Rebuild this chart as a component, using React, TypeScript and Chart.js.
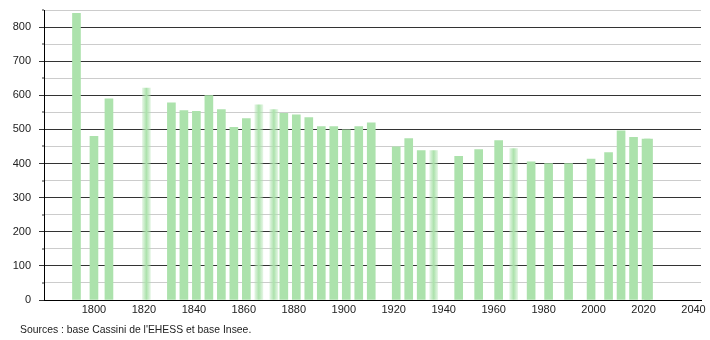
import React, { useEffect, useRef } from 'react';
import { Chart, registerables } from 'chart.js';

Chart.register(...registerables);

const years = [1793, 1800, 1806, 1821, 1831, 1836, 1841, 1846, 1851, 1856, 1861, 1866, 1872, 1876, 1881, 1886, 1891, 1896, 1901, 1906, 1911, 1921, 1926, 1931, 1936, 1946, 1954, 1962, 1968, 1975, 1982, 1990, 1999, 2006, 2011, 2016, 2021, 2022];
const population = [840, 480, 590, 621, 578, 555, 553, 599, 558, 506, 532, 572, 558, 547, 543, 535, 508, 508, 499, 508, 519, 449, 473, 438, 438, 421, 441, 467, 444, 405, 400, 400, 413, 432, 496, 477, 472, 472];
const fadedYears = [1821, 1866, 1872, 1936, 1968];
const xTickLabels = [1800, 1820, 1840, 1860, 1880, 1900, 1920, 1940, 1960, 1980, 2000, 2020, 2040];
const sourceText = "Sources : base Cassini de l'EHESS et base Insee.";

const BAR = 'rgb(172,226,172)';
const FONT = { family: '"Liberation Sans", Arial, sans-serif', size: 11 };

export default function App() {
  const ref = useRef<HTMLCanvasElement>(null);
  useEffect(() => {
    const canvas = ref.current!;
    const sourcePlugin = {
      id: 'sourceText',
      afterDraw(chart: any) {
        const c = chart.ctx;
        c.save();
        c.font = '10.4px "Liberation Sans", Arial, sans-serif';
        c.fillStyle = '#222';
        c.textBaseline = 'middle';
        c.textAlign = 'left';
        c.fillText(sourceText, 20, 330);
        c.restore();
      },
    };
    const minorTicks = {
      id: 'minorTicks',
      afterDraw(chart: any) {
        const c = chart.ctx;
        const ys = chart.scales.y;
        const left = chart.chartArea.left;
        c.save();
        c.fillStyle = '#333';
        for (let v = 50; v <= 850; v += 100) {
          const y = Math.round(ys.getPixelForValue(v));
          c.fillRect(left - 2, y - 0.5, 2, 1);
        }
        c.restore();
      },
    };
    const chart = new Chart(canvas, {
      type: 'bar',
      data: {
        datasets: [
          {
            data: years.map((y, i) => ({ x: y, y: population[i] })),
            backgroundColor: (ctx: any) => {
              if (ctx.type !== 'data') return BAR;
              const yr = years[ctx.dataIndex];
              if (!fadedYears.includes(yr)) return BAR;
              const xs = ctx.chart.scales && ctx.chart.scales.x;
              if (!xs) return BAR;
              const cx = xs.getPixelForValue(yr);
              const g = ctx.chart.ctx.createLinearGradient(cx - 4, 0, cx + 4, 0);
              g.addColorStop(0, 'rgba(172,226,172,0.35)');
              g.addColorStop(0.5, BAR);
              g.addColorStop(1, 'rgba(172,226,172,0.35)');
              return g;
            },
            borderWidth: 0,
            barThickness: 8,
          } as any,
        ],
      },
      options: {
        responsive: false,
        animation: false,
        devicePixelRatio: 1,
        layout: { padding: { left: 0, right: 9, top: 10, bottom: 0 } },
        plugins: { legend: { display: false }, tooltip: { enabled: false } },
        scales: {
          x: {
            type: 'linear',
            min: 1780,
            max: 2043,
            offset: false,
            grid: { display: false, offset: false, drawTicks: false, tickLength: 0 },
            border: { color: '#000', width: 1 },
            afterBuildTicks: (s: any) => {
              s.ticks = xTickLabels.map((v) => ({ value: v }));
            },
            ticks: { font: FONT, color: '#222', padding: 3, maxRotation: 0, autoSkip: false, callback: (v: any) => String(v) },
            afterFit: (s: any) => {
              s.height = 40;
              s.paddingLeft = 0;
              s.paddingRight = 0;
            },
          },
          y: {
            min: 0,
            max: 850,
            ticks: {
              stepSize: 50,
              font: FONT,
              color: '#222',
              padding: 8,
              callback: (v: any) => (v % 100 === 0 ? String(v) : ''),
            },
            grid: {
              color: (ctx: any) => (ctx.tick && ctx.tick.value % 100 === 0 ? '#333' : '#cccccc'),
              tickColor: (ctx: any) => (ctx.tick && ctx.tick.value % 100 === 0 ? '#333' : 'rgba(0,0,0,0)'),
              tickLength: 5,
              lineWidth: 1,
            },
            border: { color: '#000', width: 1 },
            afterFit: (s: any) => {
              s.width = 44;
              s.paddingTop = 0;
              s.paddingBottom = 0;
            },
          },
        },
      } as any,
      plugins: [sourcePlugin, minorTicks],
    });
    return () => chart.destroy();
  }, []);
  return (
    <div style={{ position: 'absolute', left: 0, top: 0, width: 710, height: 340, background: '#fff' }}>
      <canvas ref={ref} width={710} height={340} style={{ display: 'block' }} />
    </div>
  );
}
